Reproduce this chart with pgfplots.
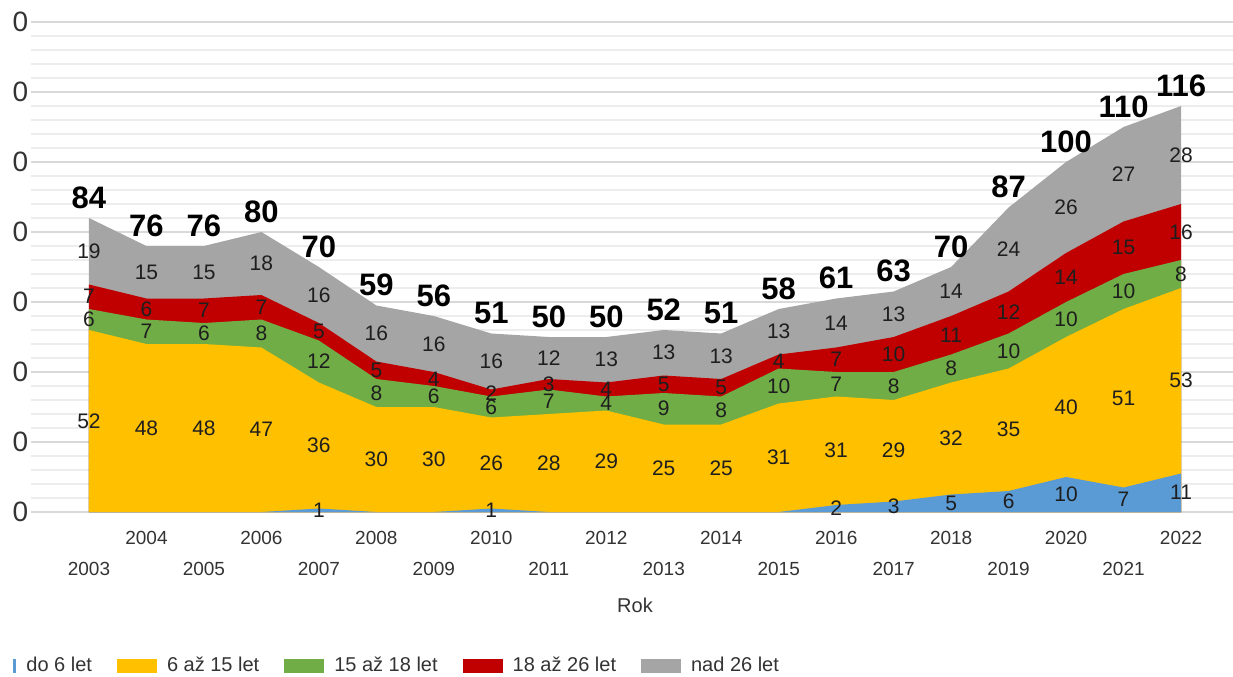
\documentclass[border=0pt]{standalone}
\usepackage{pgfplots}
\pgfplotsset{compat=1.18}
\usepackage{pgfplotstable}
\usepackage{fontspec}
\setmainfont{Liberation Sans}
\definecolor{cblue}{HTML}{5B9BD5}
\definecolor{cyel}{HTML}{FFC000}
\definecolor{cgreen}{HTML}{70AD47}
\definecolor{cred}{HTML}{C00000}
\definecolor{cgray}{HTML}{A5A5A5}
\definecolor{gridmaj}{HTML}{D9D9D9}
\definecolor{gridmin}{HTML}{EDEDED}
\definecolor{txt}{HTML}{333333}
\definecolor{labtxt}{HTML}{1E1E1E}
\pgfplotstableread{
year u a b c d
2003 0 52 6 7 19
2004 0 48 7 6 15
2005 0 48 6 7 15
2006 0 47 8 7 18
2007 1 36 12 5 16
2008 0 30 8 5 16
2009 0 30 6 4 16
2010 1 26 6 2 16
2011 0 28 7 3 12
2012 0 29 4 4 13
2013 0 25 9 5 13
2014 0 25 8 5 13
2015 0 31 10 4 13
2016 2 31 7 7 14
2017 3 29 8 10 13
2018 5 32 8 11 14
2019 6 35 10 12 24
2020 10 40 10 14 26
2021 7 51 10 15 27
2022 11 53 8 16 28
}\data
\newcommand\seglab{\fontsize{10.5}{12}\selectfont}
\begin{document}
\begin{tikzpicture}
\begin{axis}[
  name=ax,
  scale only axis, width=609.25pt, height=245pt,
  xmin=2002, xmax=2023.2, ymin=0, ymax=140,
  clip=false,
  /pgf/number format/assume math mode=true,
  /pgf/number format/1000 sep={},
  ytick={0,20,...,140}, minor y tick num=4,
  ymajorgrids, yminorgrids,
  major grid style={draw=gridmaj, line width=0.8pt},
  minor grid style={draw=gridmin, line width=0.7pt},
  axis line style={draw=none}, tick style={draw=none},
  yticklabel style={anchor=east, inner sep=0pt, xshift=-1.5pt, font=\fontsize{14}{16}\selectfont, text=txt},
  xtick={2004,2006,...,2022},
  extra x ticks={2003,2005,...,2021},
  xticklabel style={anchor=center, inner sep=0pt, yshift=-12.75pt, font=\fontsize{9.5}{11}\selectfont, text=txt},
  extra x tick style={xticklabel style={yshift=-15.5pt}},
  xlabel={Rok},
  xlabel style={at={(axis description cs:0.4953,0)}, anchor=center, inner sep=0pt, yshift=-46.75pt, font=\fontsize{10}{12}\selectfont, text=txt},
  legend style={at={(axis description cs:-0.04555,-0.3143)}, anchor=west, draw=none, fill=none, inner sep=0pt,
    nodes={inner sep=0pt}, font=\fontsize{10}{12}\selectfont, text=txt,
    /tikz/every odd column/.append style={column sep=5pt},
    /tikz/every even column/.append style={column sep=12.5pt}},
  legend columns=-1, legend cell align=left, reverse legend,
  legend image code/.code={\fill[#1] (0pt,-3.375pt) rectangle (20pt,3.375pt);},
]
\addplot[fill=cgray, draw=none, mark=none] table[x=year, y expr=\thisrow{u}+\thisrow{a}+\thisrow{b}+\thisrow{c}+\thisrow{d}] {\data} \closedcycle;
\addlegendentry{nad 26 let}
\addplot[fill=cred, draw=none, mark=none] table[x=year, y expr=\thisrow{u}+\thisrow{a}+\thisrow{b}+\thisrow{c}] {\data} \closedcycle;
\addlegendentry{18 až 26 let}
\addplot[fill=cgreen, draw=none, mark=none] table[x=year, y expr=\thisrow{u}+\thisrow{a}+\thisrow{b}] {\data} \closedcycle;
\addlegendentry{15 až 18 let}
\addplot[fill=cyel, draw=none, mark=none] table[x=year, y expr=\thisrow{u}+\thisrow{a}] {\data} \closedcycle;
\addlegendentry{6 až 15 let}
\addplot[fill=cblue, draw=none, mark=none] table[x=year, y=u] {\data} \closedcycle;
\addlegendentry{do 6 let}
% segment labels
\addplot[forget plot, draw=none, mark=none, nodes near coords, point meta=explicit, nodes near coords align={center},
  every node near coord/.append style={font=\seglab, text=labtxt, inner sep=0pt},
  restrict y to domain=0.1:200] table[x=year, y expr=\thisrow{u}/2, meta=u] {\data};
\addplot[forget plot, draw=none, mark=none, nodes near coords, point meta=explicit, nodes near coords align={center},
  every node near coord/.append style={font=\seglab, text=labtxt, inner sep=0pt}]
  table[x=year, y expr=\thisrow{u}+\thisrow{a}/2, meta=a] {\data};
\addplot[forget plot, draw=none, mark=none, nodes near coords, point meta=explicit, nodes near coords align={center},
  every node near coord/.append style={font=\seglab, text=labtxt, inner sep=0pt}]
  table[x=year, y expr=\thisrow{u}+\thisrow{a}+\thisrow{b}/2, meta=b] {\data};
\addplot[forget plot, draw=none, mark=none, nodes near coords, point meta=explicit, nodes near coords align={center},
  every node near coord/.append style={font=\seglab, text=labtxt, inner sep=0pt}]
  table[x=year, y expr=\thisrow{u}+\thisrow{a}+\thisrow{b}+\thisrow{c}/2, meta=c] {\data};
\addplot[forget plot, draw=none, mark=none, nodes near coords, point meta=explicit, nodes near coords align={center},
  every node near coord/.append style={font=\seglab, text=labtxt, inner sep=0pt}]
  table[x=year, y expr=\thisrow{u}+\thisrow{a}+\thisrow{b}+\thisrow{c}+\thisrow{d}/2, meta=d] {\data};
% totals
\addplot[forget plot, draw=none, mark=none, nodes near coords, point meta=explicit, nodes near coords align={center},
  every node near coord/.append style={font=\bfseries\fontsize{15.5}{17}\selectfont, text=black, inner sep=0pt, yshift=10.25pt}]
  table[x=year, y expr=\thisrow{u}+\thisrow{a}+\thisrow{b}+\thisrow{c}+\thisrow{d}, meta expr=\thisrow{u}+\thisrow{a}+\thisrow{b}+\thisrow{c}+\thisrow{d}] {\data};
\end{axis}
\fill[white] ([xshift=-15.75pt,yshift=-82pt]ax.south west) rectangle ([xshift=-9.25pt,yshift=256pt]ax.south west);
\pgfresetboundingbox
\path[use as bounding box] ([xshift=-15.75pt,yshift=-82pt]ax.south west) rectangle ([xshift=600.75pt,yshift=256pt]ax.south west);
\end{tikzpicture}
\end{document}
